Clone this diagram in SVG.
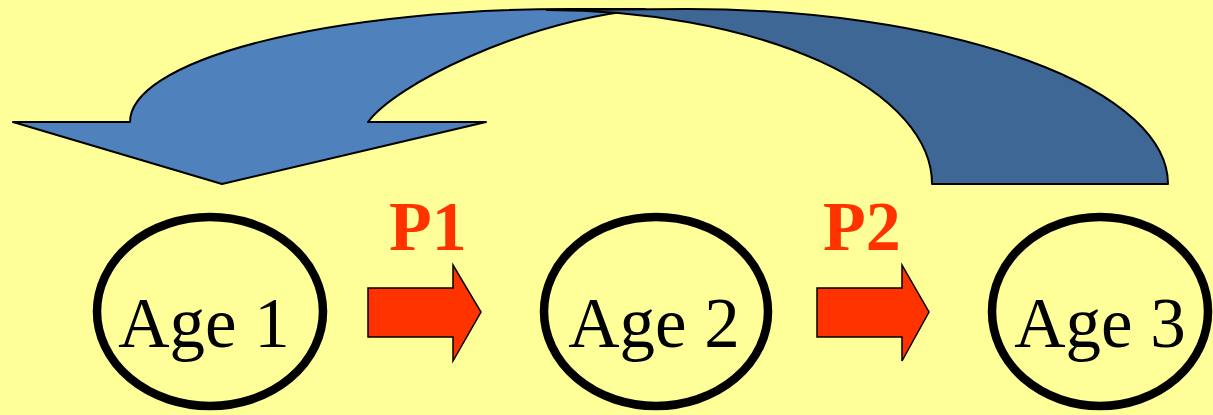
<svg xmlns="http://www.w3.org/2000/svg" width="1213" height="415" viewBox="0 0 1213 415">
<style>
.age{fill:none;stroke:#000;stroke-width:8.5}
.agetxt{font-family:"Liberation Serif",serif;font-size:71px;fill:#000;text-anchor:middle}
.plabel{font-family:"Liberation Serif",serif;font-size:70px;font-weight:bold;fill:#FF3300;text-anchor:middle}
.redarrow{fill:#FF3300;stroke:#000;stroke-width:1.5;stroke-linejoin:miter}
.curve{stroke:#000;stroke-width:2;stroke-linejoin:round}
</style>
<rect x="0" y="0" width="1213" height="415" fill="#FFFF99"/>
<g id="connectors">
  <g id="return-arrow">
    <path class="curve" fill="#4F81BD" d="M13,122 L130,122 A440 113 0 0 1 570 9 L645 9 C520 22 395 85 368 122 L486 122 L222 184 Z"/>
    <path class="curve" fill="#3F6796" d="M932,184 L1168,184 A481 175 0 0 0 687 9 L547 10 A385 174 0 0 1 932 184 Z"/>
  </g>
  <g id="p1-arrow">
    <path class="redarrow" d="M368,288 L453,288 L453,265 L481,312 L453,361 L453,337 L368,337 Z"/>
    <text class="plabel" x="428" y="250">P1</text>
  </g>
  <g id="p2-arrow">
    <path class="redarrow" d="M817,288 L902,288 L902,265 L929,312 L902,361 L902,337 L817,337 Z"/>
    <text class="plabel" x="862" y="250">P2</text>
  </g>
</g>
<g id="age1">
  <ellipse class="age" cx="210" cy="311.5" rx="113" ry="94.5"/>
  <text class="agetxt" x="204" y="347">Age 1</text>
</g>
<g id="age2">
  <ellipse class="age" cx="656" cy="311.5" rx="112" ry="94.5"/>
  <text class="agetxt" x="654" y="347">Age 2</text>
</g>
<g id="age3">
  <ellipse class="age" cx="1100" cy="311.5" rx="108" ry="94.5"/>
  <text class="agetxt" x="1100" y="347">Age 3</text>
</g>
</svg>
